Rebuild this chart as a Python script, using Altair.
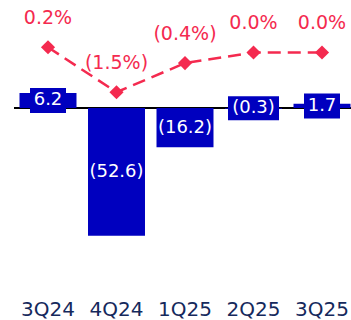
import altair as alt
import pandas as pd

quarters = ["3Q24", "4Q24", "1Q25", "2Q25", "3Q25"]
result = [6.2, -52.6, -16.2, -0.3, 1.7]
margin_pct = [0.2, -1.5, -0.4, 0.0, 0.0]

BLUE = "#0000BF"
RED = "#F42A4F"
NAVY = "#15295C"
FONT = "DejaVu Sans"


def fmt_num(v):
    return f"({abs(v):.1f})" if v < 0 else f"{v:.1f}"


def fmt_pct(v):
    return f"({abs(v):.1f}%)" if v < 0 else f"{abs(v):.1f}%"


df = pd.DataFrame({
    "quarter": quarters,
    "result": result,
    "pct": margin_pct,
    "label": [fmt_num(v) for v in result],
    "pct_label": [fmt_pct(v) for v in margin_pct],
})
df["mid"] = df["result"] / 2
df["zero"] = 0.0

x_enc = alt.X(
    "quarter:N",
    sort=quarters,
    scale=alt.Scale(range=[13.75, 356.25], paddingInner=0.168, paddingOuter=0.084),
    axis=alt.Axis(
        title=None, domain=False, ticks=False, labelAngle=0,
        labelFont=FONT, labelFontSize=20, labelColor=NAVY,
        labelPadding=25, labelBaseline="alphabetic",
    ),
)

bar_scale = alt.Scale(domain=[-74.9, 44.44], nice=False, zero=False)
pct_scale = alt.Scale(domain=[-8.962, 1.981], nice=False, zero=False)

base = alt.Chart(df)

zero_line = base.mark_rule(color="black", strokeWidth=2).encode(
    x=alt.value(14), x2=alt.value(351),
    y=alt.Y("zero:Q", scale=bar_scale, axis=None),
)

bars = base.mark_bar(color=BLUE).encode(
    x=x_enc,
    y=alt.Y("result:Q", scale=bar_scale, axis=None),
)

box_short = base.transform_filter("length(datum.label) <= 3").mark_rect(
    color=BLUE, width=36, height=25
).encode(x=x_enc, y=alt.Y("mid:Q", scale=bar_scale, axis=None))

box_long = base.transform_filter("length(datum.label) > 3").mark_rect(
    color=BLUE, width=51, height=24
).encode(x=x_enc, y=alt.Y("mid:Q", scale=bar_scale, axis=None))

bar_text = base.mark_text(
    color="white", font=FONT, fontSize=18, baseline="middle", align="center"
).encode(
    x=x_enc,
    y=alt.Y("mid:Q", scale=bar_scale, axis=None),
    text="label:N",
)

line = base.mark_line(color=RED, strokeWidth=2.5, strokeDash=[13, 7]).encode(
    x=x_enc,
    y=alt.Y("pct:Q", scale=pct_scale, axis=None),
)

points = base.mark_point(shape="diamond", filled=True, opacity=1, color=RED, size=200).encode(
    x=x_enc,
    y=alt.Y("pct:Q", scale=pct_scale, axis=None),
)

pct_text = base.mark_text(
    color=RED, font=FONT, fontSize=19, baseline="middle", align="center", dy=-29
).encode(
    x=x_enc,
    y=alt.Y("pct:Q", scale=pct_scale, axis=None),
    text="pct_label:N",
)

chart = alt.layer(
    zero_line, bars, box_short, box_long, bar_text, line, points, pct_text
).resolve_scale(y="independent").properties(
    width=351,
    height=290,
    autosize=alt.AutoSizeParams(type="none"),
    padding={"left": 0, "top": 0, "right": 0, "bottom": 30},
).configure_view(stroke=None)

chart.save("out.html", embed_options={"renderer": "svg", "actions": False})
